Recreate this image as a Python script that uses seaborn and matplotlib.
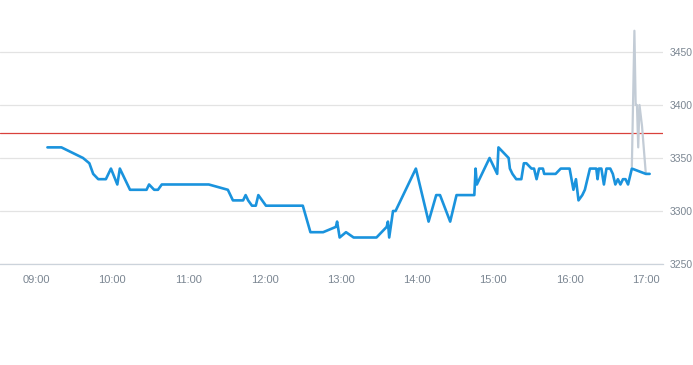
import numpy as np
import pandas as pd
import matplotlib
matplotlib.use("Agg")
import matplotlib.pyplot as plt
import matplotlib.dates as mdates
import seaborn as sns

# Main price series (blue)
price_times = [
    "09:09", "09:20", "09:37", "09:42", "09:45", "09:49", "09:55", "09:59", "10:04", "10:06",
    "10:14", "10:27", "10:29", "10:33", "10:36", "10:39", "11:16", "11:31", "11:33", "11:35",
    "11:43", "11:45", "11:47", "11:50", "11:53", "11:55", "12:01", "12:30", "12:36", "12:46",
    "12:56", "12:57", "12:59", "13:04", "13:10", "13:28", "13:36", "13:37", "13:38", "13:41",
    "13:43", "13:59", "14:09", "14:15", "14:18", "14:26", "14:31", "14:45", "14:46", "14:47",
    "14:57", "15:03", "15:04", "15:12", "15:13", "15:15", "15:18", "15:22", "15:24", "15:26",
    "15:30", "15:32", "15:34", "15:36", "15:39", "15:40", "15:49", "15:53", "16:00", "16:03",
    "16:05", "16:07", "16:10", "16:12", "16:16", "16:21", "16:22", "16:23", "16:25", "16:27",
    "16:29", "16:32", "16:34", "16:36", "16:38", "16:40", "16:42", "16:44", "16:46", "16:48",
    "16:49", "17:00", "17:03",
]
price_values = [
    3360, 3360, 3350, 3345, 3335, 3330, 3330, 3340, 3325, 3340,
    3320, 3320, 3325, 3320, 3320, 3325, 3325, 3320, 3315, 3310,
    3310, 3315, 3310, 3305, 3305, 3315, 3305, 3305, 3280, 3280,
    3285, 3290, 3275, 3280, 3275, 3275, 3285, 3290, 3275, 3300,
    3300, 3340, 3290, 3315, 3315, 3290, 3315, 3315, 3340, 3325,
    3350, 3335, 3360, 3350, 3340, 3335, 3330, 3330, 3345, 3345,
    3340, 3340, 3330, 3340, 3340, 3335, 3335, 3340, 3340, 3320,
    3330, 3310, 3315, 3320, 3340, 3340, 3330, 3340, 3340, 3325,
    3340, 3340, 3335, 3325, 3330, 3325, 3330, 3330, 3325, 3335,
    3340, 3335, 3335,
]

# Secondary series (grey spike at the close)
spike_times = ["16:49", "16:51", "16:52", "16:53", "16:54", "16:55", "16:57", "16:58", "17:00"]
spike_values = [3342, 3470, 3400, 3400, 3360, 3400, 3380, 3365, 3335]

ref_level = 3374
y_ticks = [3250, 3300, 3350, 3400, 3450]

day = "2024-01-02 "
price = pd.DataFrame({"time": pd.to_datetime([day + t for t in price_times]), "value": price_values})
spike = pd.DataFrame({"time": pd.to_datetime([day + t for t in spike_times]), "value": spike_values})

sns.set_style("white")
plt.rcParams["font.family"] = ["Liberation Sans", "DejaVu Sans"]

fig = plt.figure(figsize=(6.93, 3.65), dpi=100)
ax = fig.add_axes([0.0, 0.2767, 0.957, 0.7233])

sns.lineplot(data=spike, x="time", y="value", color="#c3ccd6", linewidth=1.6, ax=ax)
sns.lineplot(data=price, x="time", y="value", color="#1a93dd", linewidth=1.9, ax=ax)
ax.axhline(ref_level, color="#d9413c", linewidth=0.9, zorder=1)

ax.set_xlim(pd.Timestamp(day + "08:31:40"), pd.Timestamp(day + "17:13:40"))
ax.set_ylim(3250, 3499)
ax.set_yticks(y_ticks)
ax.yaxis.tick_right()
ax.grid(axis="y", color="#e3e3e3", linewidth=0.9)
ax.set_axisbelow(True)

ax.xaxis.set_major_locator(mdates.HourLocator())
ax.xaxis.set_major_formatter(mdates.DateFormatter("%H:%M"))
ax.tick_params(axis="x", length=5, width=0.8, color="#ccd3db", labelsize=8, labelcolor="#7b8692", pad=3)
ax.tick_params(axis="y", length=0, labelsize=7.5, labelcolor="#7b8692", pad=4.5)

for side in ["top", "left", "right"]:
    ax.spines[side].set_visible(False)
ax.spines["bottom"].set_color("#ccd3db")
ax.spines["bottom"].set_linewidth(0.9)

ax.set_xlabel("")
ax.set_ylabel("")

fig.savefig("out.png", dpi=100)
